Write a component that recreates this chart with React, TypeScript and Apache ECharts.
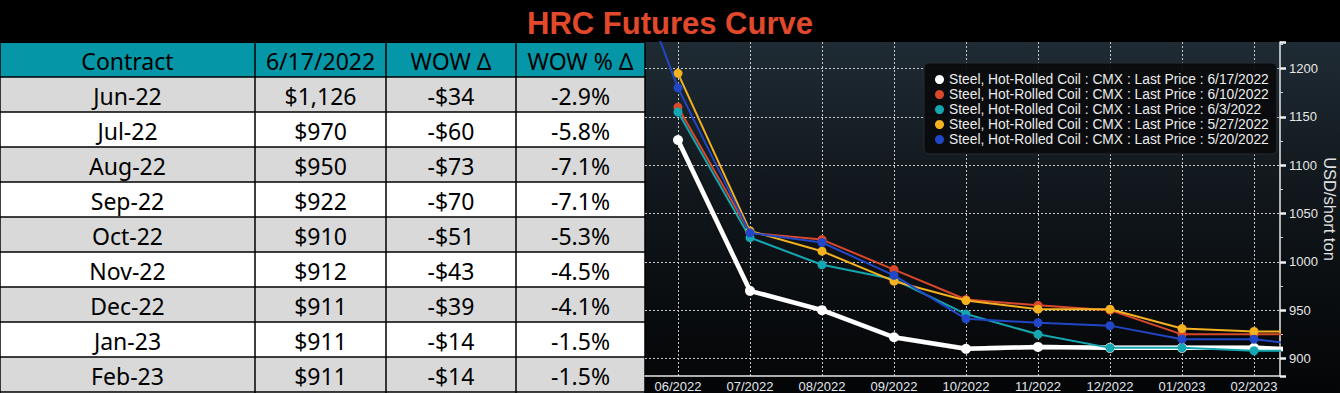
import React, { useEffect, useRef } from 'react';
import * as echarts from 'echarts';

// x positions: months[i] sits at x = i - 1 (so 06/2022 = 0)
const months = ['05/2022', '06/2022', '07/2022', '08/2022', '09/2022', '10/2022', '11/2022', '12/2022', '01/2023', '02/2023', '03/2023'];
const curve0617 = [null, 1126, 970, 950, 922, 910, 912, 911, 911, 911, 908];
const curve0610 = [null, 1160, 1030, 1023, 992, 961, 955, 950, 925, 925, 925];
const curve0603 = [null, 1155, 1025, 997, 982, 946, 925, 911, 911, 908, 908];
const curve0527 = [null, 1195, 1032, 1011, 980, 960, 951, 951, 931, 928, 928];
const curve0520 = [1376, 1180, 1030, 1020, 986, 941, 937, 934, 920, 920, 911];

const seriesNames = [
  'Steel, Hot-Rolled Coil : CMX : Last Price : 6/17/2022',
  'Steel, Hot-Rolled Coil : CMX : Last Price : 6/10/2022',
  'Steel, Hot-Rolled Coil : CMX : Last Price : 6/3/2022',
  'Steel, Hot-Rolled Coil : CMX : Last Price : 5/27/2022',
  'Steel, Hot-Rolled Coil : CMX : Last Price : 5/20/2022',
];
const seriesColors = ['#ffffff', '#d9482b', '#15a7b1', '#f4b120', '#2146c7'];

const tableHeaders = ['Contract', '6/17/2022', 'WOW Δ', 'WOW % Δ'];
const contracts = ['Jun-22', 'Jul-22', 'Aug-22', 'Sep-22', 'Oct-22', 'Nov-22', 'Dec-22', 'Jan-23', 'Feb-23'];
const lastPrices = [1126, 970, 950, 922, 910, 912, 911, 911, 911];
const wowChange = [-34, -60, -73, -70, -51, -43, -39, -14, -14];
const wowPct = [-2.9, -5.8, -7.1, -7.1, -5.3, -4.5, -4.1, -1.5, -1.5];

const TITLE = 'HRC Futures Curve';

const fmtMoney = (v: number) => (v < 0 ? '-' : '') + '$' + Math.abs(v).toLocaleString('en-US');
const fmtPct = (v: number) => v.toFixed(1) + '%';

export default function App() {
  const ref = useRef<HTMLDivElement>(null);
  useEffect(() => {
    document.body.style.margin = '0';
    if (!ref.current) return;
    const chart = echarts.init(ref.current, undefined, { renderer: 'svg' });

    const colX = [0, 255, 386, 516, 645];
    const headerTop = 43;
    const headerH = 34;
    const rowH = 35;
    const rowsTop = headerTop + headerH;
    const tableFont = '"Noto Sans", sans-serif';

    const graphics: any[] = [];
    graphics.push({ type: 'rect', z: -20, shape: { x: 0, y: 0, width: 1340, height: 43 }, style: { fill: '#000000' } });
    graphics.push({
      type: 'rect', z: -20,
      shape: { x: 645, y: 42, width: 695, height: 351 },
      style: {
        fill: new echarts.graphic.LinearGradient(0, 0, 0, 1, [
          { offset: 0, color: '#1f2b34' },
          { offset: 0.45, color: '#10161b' },
          { offset: 1, color: '#040506' },
        ]),
      },
    });
    graphics.push({
      type: 'text', z: 10,
      style: { text: TITLE, x: 670, y: 23, align: 'center', verticalAlign: 'middle', fill: '#e2492b', font: 'bold 31px "Liberation Sans", Arial, sans-serif' },
    });
    // header
    graphics.push({ type: 'rect', z: -5, shape: { x: 0, y: headerTop, width: 645, height: headerH }, style: { fill: '#0597a8' } });
    contracts.forEach((_, i) => {
      graphics.push({ type: 'rect', z: -5, shape: { x: 0, y: rowsTop + i * rowH, width: 645, height: rowH }, style: { fill: i % 2 === 0 ? '#d9d9d9' : '#ffffff' } });
    });
    // grid lines of table
    for (let i = 0; i <= contracts.length; i++) {
      const y = rowsTop + i * rowH;
      graphics.push({ type: 'line', z: -4, shape: { x1: 0, y1: y, x2: 645, y2: y }, style: { stroke: '#000000', lineWidth: 1.5 } });
    }
    colX.forEach((x) => {
      graphics.push({ type: 'line', z: -4, shape: { x1: x, y1: headerTop, x2: x, y2: 393 }, style: { stroke: '#000000', lineWidth: 1.5 } });
    });
    tableHeaders.forEach((h, c) => {
      graphics.push({
        type: 'text', z: -3,
        style: { text: h, x: (colX[c] + colX[c + 1]) / 2, y: headerTop + headerH / 2 + 1, align: 'center', verticalAlign: 'middle', fill: '#000000', font: `23px ${tableFont}` },
      });
    });
    contracts.forEach((name, i) => {
      const cells = [name, fmtMoney(lastPrices[i]), fmtMoney(wowChange[i]), fmtPct(wowPct[i])];
      cells.forEach((t, c) => {
        graphics.push({
          type: 'text', z: -3,
          style: { text: t, x: (colX[c] + colX[c + 1]) / 2, y: rowsTop + i * rowH + rowH / 2 + 1, align: 'center', verticalAlign: 'middle', fill: '#000000', font: `23px ${tableFont}` },
        });
      });
    });

    const curves = [curve0617, curve0610, curve0603, curve0527, curve0520];
    const series = curves.map((curve, k) => ({
      name: seriesNames[k],
      type: 'line',
      data: curve.map((v, i) => (v == null ? null : [i - 1, v])).filter((d) => d !== null),
      color: seriesColors[k],
      symbol: 'circle',
      symbolSize: k === 0 ? 10 : 9,
      showAllSymbol: true,
      lineStyle: k === 0
        ? { width: 4.5, color: '#ffffff', shadowColor: 'rgba(0,0,0,0.6)', shadowBlur: 3 }
        : { width: 2, color: seriesColors[k] },
      itemStyle: { color: seriesColors[k] },
      z: 2 + k,
      clip: true,
    }));

    const axisFont = '"Liberation Sans", Arial, sans-serif';
    const splitStyle = { color: '#c8c8c8', width: 1, type: [2, 2] };

    chart.setOption({
      animation: false,
      backgroundColor: 'transparent',
      graphic: graphics,
      grid: { left: 645, right: 60, top: 42, bottom: 17, containLabel: false },
      legend: {
        data: seriesNames,
        orient: 'vertical',
        left: 924,
        top: 63,
        icon: 'circle',
        itemWidth: 9,
        itemHeight: 9,
        itemGap: 0,
        padding: [9, 8, 7, 11],
        backgroundColor: 'rgba(9,11,13,0.95)',
        borderColor: '#262c31',
        borderWidth: 1,
        borderRadius: 5,
        selectedMode: false,
        textStyle: { color: '#ececec', fontSize: 13.8, lineHeight: 15, fontFamily: axisFont },
        z: 10,
      },
      xAxis: {
        type: 'value',
        min: -0.458,
        max: 8.361,
        minInterval: 1,
        maxInterval: 1,
        axisLine: { show: true, onZero: false, lineStyle: { color: '#e6e6e6', width: 1.5 } },
        axisTick: { show: false },
        axisLabel: {
          color: '#e2e8ee', fontSize: 13, fontFamily: axisFont, margin: 4,
          showMinLabel: false, showMaxLabel: false,
          formatter: (v: number) => (Number.isInteger(Math.round(v * 1000) / 1000) ? months[Math.round(v) + 1] : ''),
        },
        splitLine: { show: true, showMinLine: false, showMaxLine: false, lineStyle: splitStyle },
      },
      yAxis: {
        type: 'value',
        position: 'right',
        min: 881.9,
        max: 1227.4,
        minInterval: 50,
        maxInterval: 50,
        name: 'USD/short ton',
        nameLocation: 'middle',
        nameRotate: -90,
        nameGap: 36,
        nameTextStyle: { color: '#e0e0e0', fontSize: 16.5, fontFamily: axisFont },
        axisLine: { show: true, onZero: false, lineStyle: { color: '#e6e6e6', width: 1.5 } },
        axisTick: { show: true, length: 6, lineStyle: { color: '#f0f0f0', width: 2.5 } },
        minorTick: { show: true, splitNumber: 2, length: 3, lineStyle: { color: '#cfcfcf', width: 1 } },
        axisLabel: {
          color: '#e6e6e6', fontSize: 13, fontFamily: axisFont, margin: 9,
          showMinLabel: false, showMaxLabel: false,
          formatter: (v: number) => String(Math.round(v)),
        },
        splitLine: { show: true, showMinLine: false, showMaxLine: false, lineStyle: splitStyle },
      },
      series,
    });
    return () => chart.dispose();
  }, []);
  return <div ref={ref} style={{ width: 1340, height: 393 }} />;
}
